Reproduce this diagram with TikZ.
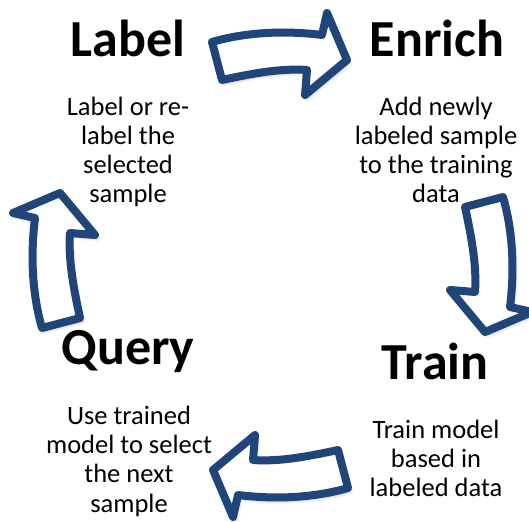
\documentclass[tikz,border=0pt]{standalone}
\usepackage{fontspec}
\setmainfont{Carlito}
\usetikzlibrary{shadows.blur}
\definecolor{arrowblue}{HTML}{1F4579}
\tikzset{
  cyclearrow/.style={draw=arrowblue, fill=white, line width=8pt, line join=round,
    blur shadow={shadow xshift=2pt, shadow yshift=-3pt, shadow blur radius=4pt, shadow opacity=35}},
  titletext/.style={font=\bfseries\fontsize{52}{60}\selectfont, anchor=base, inner sep=0pt},
  bodytext/.style={font=\fontsize{26.5}{29}\selectfont, align=center, anchor=base, inner sep=0pt},
  arr/.pic={
    \path[cyclearrow] (-68,13) .. controls (-30,24) and (10,24) .. (42,20)
      -- (47,42) -- (67,-5) -- (25,-40) -- (27,-15)
      .. controls (0,-13) and (-30,-19) .. (-58,-25) -- cycle;
  }
}
\begin{document}
\begin{tikzpicture}[x=1pt,y=1pt]
\useasboundingbox (0,0) rectangle (529,521);
\pic (arrowEnrich) at (280,466) {arr};
\pic[rotate=-90] (arrowTrain) at (490,256) {arr};
\pic[rotate=180] (arrowQuery) at (280,46) {arr};
\pic[rotate=90] (arrowLabel) at (55,261) {arr};
\node[titletext] (tLabel) at (128,464) {Label};
\node[titletext] (tEnrich) at (437,464) {Enrich};
\node[titletext] (tQuery) at (128,156) {Query};
\node[titletext] (tTrain) at (435,141) {Train};
\node[bodytext] (bLabel) at (128,318) {Label or re-\\label the\\selected\\sample};
\node[bodytext] (bEnrich) at (436,318) {Add newly\\labeled sample\\to the training\\data};
\node[bodytext] (bQuery) at (129,9) {Use trained\\model to select\\the next\\sample};
\node[bodytext] (bTrain) at (436,24) {Train model\\based in\\labeled data};
\end{tikzpicture}
\end{document}
